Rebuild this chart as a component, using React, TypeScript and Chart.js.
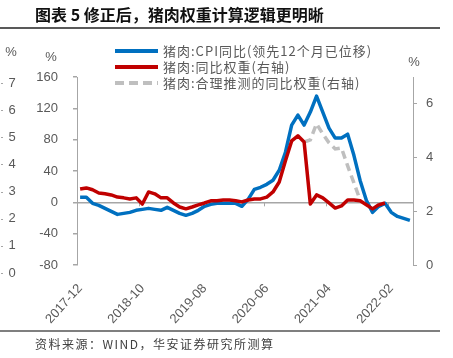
import React, { useEffect, useRef } from "react";
import { Chart, registerables } from "chart.js";

Chart.register(...registerables);

// Categories: monthly, 2017-12 .. 2022-05
const months: string[] = (() => {
  const out: string[] = [];
  let y = 2017;
  let m = 12;
  for (let i = 0; i < 54; i++) {
    out.push(`${y}-${String(m).padStart(2, "0")}`);
    m++;
    if (m > 12) {
      m = 1;
      y++;
    }
  }
  return out;
})();

// 猪肉:CPI同比(领先12个月已位移) — left axis, %
const cpiYoY: (number | null)[] = [
  6.4, 6.4, -1.3, -3.8, -7.7, -11.5, -15.4, -14.1, -12.8, -10.2,
  -9.0, -7.7, -9.0, -10.2, -6.4, -10.2, -14.1, -16.6, -14.1, -10.2,
  -5.1, -2.6, -1.3, -1.3, -1.3, -1.3, -5.1, 3.8, 16.6, 19.2,
  23.0, 28.2, 41.0, 64.0, 98.6, 111.4, 98.6, 115.2, 135.7, 115.2,
  94.7, 82.0, 82.0, 87.0, 60.0, 28.0, 2.6, -12.8, -5.1, -1.3,
  -12.8, -18.0, -20.5, -23.0,
];

// 猪肉:同比权重(右轴) — right axis, %
const weightYoY: (number | null)[] = [
  2.83, 2.87, 2.8, 2.68, 2.65, 2.61, 2.53, 2.5, 2.46, 2.5,
  2.27, 2.72, 2.65, 2.5, 2.5, 2.31, 2.16, 2.09, 2.16, 2.24,
  2.31, 2.39, 2.39, 2.42, 2.42, 2.39, 2.35, 2.42, 2.46, 2.46,
  2.53, 2.72, 3.09, 3.88, 4.62, 4.81, 4.58, 2.27, 2.61, 2.5,
  2.31, 2.12, 2.2, 2.42, 2.42, 2.39, 2.24, 2.09, 2.24, 2.31,
  null, null, null, null,
];

// 猪肉:合理推测的同比权重(右轴) — right axis, %
const inferredWeight: (number | null)[] = [
  null, null, null, null, null, null, null, null, null, null,
  null, null, null, null, null, null, null, null, null, null,
  null, null, null, null, null, null, null, null, null, null,
  null, null, null, null, null, null, 4.58, 4.66, 5.26, 4.88,
  4.55, 4.32, 4.36, 3.69, 3.06, 2.42, null, null, null, null,
  null, null, null, null,
];

// Far-left residual axis labels (0..7)
const sideTicks: number[] = [0, 1, 2, 3, 4, 5, 6, 7];

const BLUE = "#0070C0";
const RED = "#C00000";
const GRAY_DASH = "#BFBFBF";
const AXIS = "#A6A6A6";
const TEXT = "#595959";
const FONT = "'Liberation Sans', Arial, sans-serif";
const CJK = "'Noto Sans CJK SC', sans-serif";

const legendItems = [
  { label: "猪肉:CPI同比(领先12个月已位移)", color: BLUE, dash: "" },
  { label: "猪肉:同比权重(右轴)", color: RED, dash: "" },
  { label: "猪肉:合理推测的同比权重(右轴)", color: GRAY_DASH, dash: "9 5" },
];

const decorPlugin = {
  id: "decor",
  beforeDatasetsDraw(chart: any) {
    const { ctx, scales } = chart;
    const x = scales.x;
    const y = scales.y;
    const zeroY = y.getPixelForValue(0);
    const half = (x.getPixelForValue(1) - x.getPixelForValue(0)) / 2;
    ctx.save();
    ctx.strokeStyle = AXIS;
    ctx.lineWidth = 1;
    months.forEach((_, i) => {
      if (i % 10 === 0 && i > 0) {
        const px = Math.round(x.getPixelForValue(i) - half) + 0.5;
        ctx.beginPath();
        ctx.moveTo(px, zeroY);
        ctx.lineTo(px, zeroY + 4);
        ctx.stroke();
      }
    });
    ctx.restore();
  },
  afterDraw(chart: any) {
    const { ctx, scales, chartArea } = chart;
    const y = scales.y;
    const y1 = scales.y1;
    const y3 = scales.y3;
    ctx.save();
    ctx.fillStyle = TEXT;
    ctx.font = `13px ${FONT}`;
    ctx.textAlign = "center";
    ctx.textBaseline = "middle";
    // percent unit labels
    ctx.fillText("%", y.right - 26, chartArea.top - 20);
    ctx.fillText("%", y1.left + 1, chartArea.top - 15);
    ctx.fillText("%", y.left + 11, chartArea.top - 25);
    // far-left residual axis
    ctx.strokeStyle = AXIS;
    ctx.lineWidth = 1;
    sideTicks.forEach((v) => {
      const py = y3.getPixelForValue(v);
      ctx.fillText(String(v), y.left + 12, py);
      ctx.beginPath();
      ctx.moveTo(y.left + 1, Math.round(py) + 0.5);
      ctx.lineTo(y.left + 3, Math.round(py) + 0.5);
      ctx.stroke();
    });
    ctx.restore();
  },
};

function PorkChart() {
  const ref = useRef<HTMLCanvasElement | null>(null);
  useEffect(() => {
    if (!ref.current) return;
    const chart = new Chart(ref.current, {
      type: "line",
      data: {
        labels: months,
        datasets: [
          {
            label: legendItems[0].label,
            data: cpiYoY,
            yAxisID: "y",
            borderColor: BLUE,
            borderWidth: 3.5,
            pointRadius: 0,
            tension: 0,
            order: 3,
            borderJoinStyle: "round",
          },
          {
            label: legendItems[2].label,
            data: inferredWeight,
            yAxisID: "y1",
            borderColor: GRAY_DASH,
            borderWidth: 3.5,
            borderDash: [8, 5],
            pointRadius: 0,
            tension: 0,
            order: 2,
          },
          {
            label: legendItems[1].label,
            data: weightYoY,
            yAxisID: "y1",
            borderColor: RED,
            borderWidth: 3.5,
            pointRadius: 0,
            tension: 0,
            order: 1,
            borderJoinStyle: "round",
          },
        ],
      },
      options: {
        responsive: false,
        animation: false,
        events: [],
        layout: { padding: { top: 77, left: 0, right: 0, bottom: 0 } },
        plugins: {
          legend: { display: false },
          tooltip: { enabled: false },
          title: { display: false },
        },
        scales: {
          x: {
            type: "category",
            offset: true,
            grid: { display: false },
            border: { display: false },
            ticks: {
              autoSkip: false,
              maxRotation: 48,
              minRotation: 48,
              color: TEXT,
              padding: 8,
              font: { family: FONT, size: 13 },
              callback: (_v: any, i: number) => (i % 10 === 0 ? months[i] : ""),
            },
            afterFit: (s: any) => {
              s.height = 93;
            },
          },
          y: {
            position: "left",
            min: -80,
            max: 160,
            ticks: {
              stepSize: 40,
              color: TEXT,
              padding: 15,
              font: { family: FONT, size: 13 },
            },
            grid: {
              drawOnChartArea: true,
              drawTicks: true,
              tickLength: 4,
              tickColor: AXIS,
              lineWidth: 1.5,
              color: (c: any) =>
                c.tick && c.tick.value === 0 ? AXIS : "rgba(0,0,0,0)",
            },
            border: { display: true, color: AXIS, width: 1 },
            afterFit: (s: any) => {
              s.width = 77;
            },
          },
          y1: {
            position: "right",
            min: 0,
            max: 7,
            ticks: {
              stepSize: 2,
              color: TEXT,
              padding: 9,
              font: { family: FONT, size: 13 },
            },
            afterBuildTicks: (s: any) => {
              s.ticks = s.ticks.filter((t: any) => t.value % 2 === 0);
            },
            grid: {
              drawOnChartArea: false,
              drawTicks: true,
              tickLength: 4,
              tickColor: AXIS,
            },
            border: { display: true, color: AXIS, width: 1 },
            afterFit: (s: any) => {
              s.width = 40;
            },
          },
          y3: {
            display: false,
            position: "left",
            min: 0.295,
            max: 7.22,
          },
        },
      },
      plugins: [decorPlugin],
    } as any);
    return () => chart.destroy();
  }, []);
  return (
    <canvas
      ref={ref}
      width={453}
      height={358}
      style={{ position: "absolute", left: 0, top: 0, display: "block" }}
    />
  );
}

export default function App() {
  return (
    <div
      style={{
        position: "fixed",
        left: 0,
        top: 0,
        width: 453,
        height: 358,
        background: "#fff",
        overflow: "hidden",
      }}
    >
      <PorkChart />
      <div
        style={{
          position: "absolute",
          left: 35,
          top: 3,
          fontFamily: CJK,
          fontWeight: 700,
          fontSize: 16,
          lineHeight: "22px",
          color: "#111",
          whiteSpace: "pre",
        }}
      >
        {"图表 5 修正后，猪肉权重计算逻辑更明晰"}
      </div>
      <div
        style={{
          position: "absolute",
          left: 0,
          top: 27,
          width: 440,
          height: 1.5,
          background: "#595959",
        }}
      />
      <div style={{ position: "absolute", left: 115, top: 43 }}>
        {legendItems.map((it) => (
          <div
            key={it.label}
            style={{ display: "flex", alignItems: "center", height: 16 }}
          >
            <svg width={43} height={6} style={{ display: "block" }}>
              <line
                x1={0}
                y1={3}
                x2={43}
                y2={3}
                stroke={it.color}
                strokeWidth={4}
                strokeDasharray={it.dash || undefined}
              />
            </svg>
            <span
              style={{
                marginLeft: 5,
                fontFamily: CJK,
                fontSize: 13,
                letterSpacing: 1,
                color: TEXT,
                whiteSpace: "nowrap",
                lineHeight: "16px",
              }}
            >
              {it.label}
            </span>
          </div>
        ))}
      </div>
      <div
        style={{
          position: "absolute",
          left: 0,
          top: 330,
          width: 440,
          height: 1.5,
          background: "#7f7f7f",
        }}
      />
      <div
        style={{
          position: "absolute",
          left: 35,
          top: 336,
          fontFamily: CJK,
          fontSize: 12,
          letterSpacing: 1.5,
          lineHeight: "16px",
          color: "#404040",
          whiteSpace: "nowrap",
        }}
      >
        资料来源：WIND，华安证券研究所测算
      </div>
    </div>
  );
}
